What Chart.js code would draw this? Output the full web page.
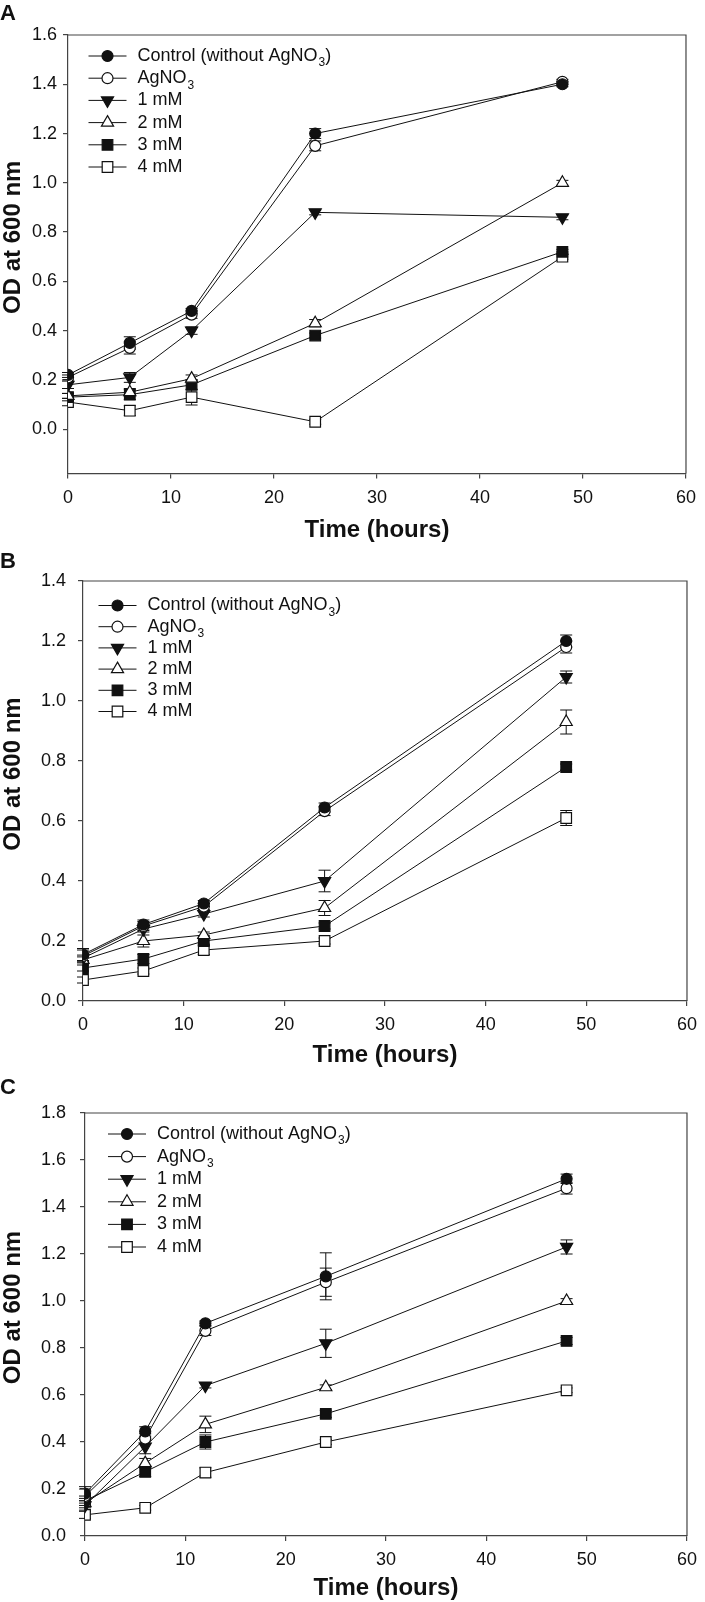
<!DOCTYPE html>
<html>
<head>
<meta charset="utf-8">
<script src="https://cdn.jsdelivr.net/npm/chart.js@4.4.1/dist/chart.umd.min.js"></script>
<style>
body { margin: 0; background: #fff; }
#wrap { position: relative; width: 705px; height: 1602px; overflow: hidden; background: #fff; }
canvas { position: absolute; left: 0; }
.panel { position: absolute; left: 0; font: bold 22px "Liberation Sans", Arial, sans-serif; line-height: 22px; color: #111; }
</style>
</head>
<body>
<div id="wrap">
  <canvas id="chartA" width="705" height="560" style="top:0px"></canvas>
  <canvas id="chartB" width="705" height="535" style="top:540px"></canvas>
  <canvas id="chartC" width="705" height="532" style="top:1070px"></canvas>
  <div class="panel" style="top:2px">A</div>
  <div class="panel" style="top:550px">B</div>
  <div class="panel" style="top:1076px">C</div>
</div>
<script>
const timeHours = [0, 6, 12, 24, 48];
const seriesNames = ['Control (without AgNO3)', 'AgNO3', '1 mM', '2 mM', '3 mM', '4 mM'];
const xTicks = [0, 10, 20, 30, 40, 50, 60];
const yTicksA = [0, 0.2, 0.4, 0.6, 0.8, 1.0, 1.2, 1.4, 1.6];
const yTicksB = [0, 0.2, 0.4, 0.6, 0.8, 1.0, 1.2, 1.4];
const yTicksC = [0, 0.2, 0.4, 0.6, 0.8, 1.0, 1.2, 1.4, 1.6, 1.8];

// OD at 600 nm, one row per series (same order as seriesNames)
const odA = [
    [0.22, 0.35, 0.48, 1.20, 1.40],
    [0.21, 0.33, 0.465, 1.15, 1.41],
    [0.18, 0.21, 0.40, 0.88, 0.86],
    [0.135, 0.15, 0.205, 0.43, 1.00],
    [0.13, 0.14, 0.18, 0.38, 0.72],
    [0.11, 0.075, 0.13, 0.03, 0.70]
];
const errA = [
    [0.01, 0.025, 0.01, 0.02, 0.01],
    [0.01, 0.025, 0.015, 0.02, 0.01],
    [0.015, 0.02, 0.015, 0.01, 0.01],
    [0.01, 0.015, 0.015, 0.015, 0.01],
    [0.015, 0.02, 0.02, 0.01, 0.01],
    [0.015, 0.02, 0.032, 0.01, 0.01]
];
const odB = [
    [0.155, 0.255, 0.325, 0.645, 1.20],
    [0.15, 0.25, 0.315, 0.633, 1.18],
    [0.143, 0.24, 0.29, 0.40, 1.08],
    [0.137, 0.20, 0.22, 0.31, 0.93],
    [0.11, 0.14, 0.20, 0.25, 0.78],
    [0.07, 0.10, 0.17, 0.20, 0.61]
];
const errB = [
    [0.02, 0.015, 0.01, 0.015, 0.02],
    [0.02, 0.015, 0.01, 0.015, 0.02],
    [0.01, 0.01, 0.01, 0.036, 0.02],
    [0.01, 0.02, 0.01, 0.025, 0.04],
    [0.01, 0.015, 0.01, 0.01, 0.01],
    [0.01, 0.01, 0.015, 0.01, 0.025]
];
const odC = [
    [0.18, 0.445, 0.905, 1.105, 1.52],
    [0.17, 0.415, 0.873, 1.08, 1.48],
    [0.13, 0.38, 0.64, 0.82, 1.23],
    [0.14, 0.31, 0.475, 0.633, 1.00],
    [0.15, 0.273, 0.40, 0.52, 0.83],
    [0.09, 0.12, 0.27, 0.40, 0.62]
];
const errC = [
    [0.03, 0.02, 0.01, 0.10, 0.02],
    [0.03, 0.02, 0.02, 0.06, 0.025],
    [0.02, 0.03, 0.01, 0.06, 0.03],
    [0.02, 0.02, 0.035, 0.01, 0.01],
    [0.02, 0.02, 0.03, 0.015, 0.015],
    [0.015, 0.01, 0.02, 0.01, 0.01]
];

const FONT = '"Liberation Sans", Arial, sans-serif';
const INK = '#111';
const AXIS = '#444';

// marker look per series
const markers = [
    { style: 'circle', fill: INK, radius: 5.5, rot: 0 },
    { style: 'circle', fill: '#fff', radius: 5.5, rot: 0 },
    { style: 'triangle', fill: INK, radius: 7, rot: 180 },
    { style: 'triangle', fill: '#fff', radius: 7, rot: 0 },
    { style: 'rect', fill: INK, radius: 7.5, rot: 0 },
    { style: 'rect', fill: '#fff', radius: 7.5, rot: 0 }
];

// vertical error bars with caps, drawn under the lines and markers
const errorBars = {
    id: 'errorBars',
    beforeDatasetsDraw(chart) {
        const { ctx, scales: { x, y } } = chart;
        ctx.save();
        ctx.strokeStyle = INK;
        ctx.lineWidth = 1;
        chart.data.datasets.forEach(ds => {
            ds.data.forEach((p, j) => {
                const e = ds.errors[j];
                if (!e) return;
                const px = x.getPixelForValue(p.x);
                const top = y.getPixelForValue(p.y + e);
                const bot = y.getPixelForValue(p.y - e);
                ctx.beginPath();
                ctx.moveTo(px, top); ctx.lineTo(px, bot);
                ctx.moveTo(px - 6, top); ctx.lineTo(px + 6, top);
                ctx.moveTo(px - 6, bot); ctx.lineTo(px + 6, bot);
                ctx.stroke();
            });
        });
        ctx.restore();
    }
};

// top and right sides of the box, plus the y title (sits a bit above centre)
const frame = {
    id: 'frame',
    afterDraw(chart, args, o) {
        const { ctx, chartArea: a } = chart;
        ctx.save();
        ctx.strokeStyle = AXIS;
        ctx.lineWidth = 1.2;
        ctx.beginPath();
        ctx.moveTo(a.left, a.top); ctx.lineTo(a.right, a.top); ctx.lineTo(a.right, a.bottom);
        ctx.stroke();

        ctx.translate(o.titleX, (a.top + a.bottom) / 2 + o.titleDy);
        ctx.rotate(-Math.PI / 2);
        ctx.fillStyle = INK;
        ctx.font = 'bold 24px ' + FONT;
        ctx.textAlign = 'center';
        ctx.textBaseline = 'middle';
        ctx.fillText('OD at 600 nm', 0, 0);
        ctx.restore();
    }
};

function drawLabel(ctx, text, x, y) {
    // "NO3" gets a subscript 3
    const k = text.indexOf('NO3');
    if (k < 0) { ctx.fillText(text, x, y); return; }
    const head = text.slice(0, k + 2);
    const tail = text.slice(k + 3);
    ctx.font = '18px ' + FONT;
    ctx.fillText(head, x, y);
    let cx = x + ctx.measureText(head).width;
    ctx.font = '12px ' + FONT;
    ctx.fillText('3', cx + 1, y + 7);
    cx += ctx.measureText('3').width + 1;
    ctx.font = '18px ' + FONT;
    ctx.fillText(tail, cx, y);
}

const insideLegend = {
    id: 'insideLegend',
    afterDraw(chart, args, o) {
        const { ctx, chartArea: a } = chart;
        ctx.save();
        chart.data.datasets.forEach((ds, i) => {
            const y = a.top + o.dy + i * o.gap;
            const x0 = a.left + o.dx;
            ctx.strokeStyle = INK;
            ctx.lineWidth = 1;
            ctx.beginPath(); ctx.moveTo(x0, y); ctx.lineTo(x0 + 38, y); ctx.stroke();
            ctx.fillStyle = ds.pointBackgroundColor;
            ctx.lineWidth = 1.2;
            Chart.helpers.drawPoint(ctx, {
                pointStyle: ds.pointStyle, rotation: ds.pointRotation,
                radius: ds.pointRadius, borderWidth: 1.2
            }, x0 + 19, y);
            ctx.fillStyle = INK;
            ctx.font = '18px ' + FONT;
            ctx.textBaseline = 'middle';
            ctx.textAlign = 'left';
            drawLabel(ctx, ds.label, x0 + 49, y);
        });
        ctx.restore();
    }
};

function makePanel(id, values, errors, yTicks, cfg) {
    const datasets = values.map((vals, i) => ({
        label: seriesNames[i],
        data: timeHours.map((t, j) => ({ x: t, y: vals[j] })),
        errors: errors[i],
        borderColor: INK,
        borderWidth: 1,
        pointStyle: markers[i].style,
        pointRotation: markers[i].rot,
        pointRadius: markers[i].radius,
        pointBackgroundColor: markers[i].fill,
        pointBorderColor: INK,
        pointBorderWidth: 1.2,
        tension: 0,
        fill: false
    }));

    return new Chart(document.getElementById(id), {
        type: 'line',
        data: { datasets },
        options: {
            responsive: false,
            animation: false,
            devicePixelRatio: 1,
            layout: { padding: { left: 0, top: cfg.top, right: cfg.right, bottom: 0 } },
            plugins: {
                legend: { display: false },
                tooltip: { enabled: false },
                insideLegend: cfg.legend,
                frame: { titleX: 13, titleDy: -17 }
            },
            scales: {
                x: {
                    type: 'linear',
                    min: 0,
                    max: 60,
                    afterBuildTicks: s => { s.ticks = xTicks.map(v => ({ value: v })); },
                    afterFit: s => { s.height = cfg.xh; },
                    ticks: { font: { size: 18, family: FONT }, color: INK, padding: cfg.xpad, maxRotation: 0, callback: v => String(v) },
                    grid: { drawOnChartArea: false, tickLength: 5, color: AXIS, lineWidth: 1.2 },
                    border: { color: AXIS, width: 1.2 },
                    title: {
                        display: true, text: 'Time (hours)', color: INK,
                        font: { size: 24, weight: 'bold', family: FONT, lineHeight: 1 },
                        padding: { top: 0, bottom: cfg.tpad }
                    }
                },
                y: {
                    min: cfg.ymin,
                    max: yTicks[yTicks.length - 1],
                    afterBuildTicks: s => { s.ticks = yTicks.map(v => ({ value: v })); },
                    afterFit: s => { s.width = cfg.yw; },
                    ticks: { font: { size: 18, family: FONT }, color: INK, padding: cfg.ypad, callback: v => v.toFixed(1) },
                    grid: { drawOnChartArea: false, tickLength: 5, color: AXIS, lineWidth: 1.2 },
                    border: { color: AXIS, width: 1.2 }
                }
            }
        },
        plugins: [errorBars, frame, insideLegend]
    });
}

makePanel('chartA', odA, errA, yTicksA, {
    top: 35, right: 9.5, yw: 68, xh: 86.5, xpad: 9, tpad: 18, ypad: 6, ymin: -0.18,
    legend: { dx: 20.5, dy: 21, gap: 22.2 }
});
makePanel('chartB', odB, errB, yTicksB, {
    top: 41, right: 17, yw: 83, xh: 74, xpad: 8, tpad: 8, ypad: 12, ymin: 0,
    legend: { dx: 15.5, dy: 24.5, gap: 21.2 }
});
makePanel('chartC', odC, errC, yTicksC, {
    top: 43, right: 16, yw: 85, xh: 66, xpad: 8, tpad: 2, ypad: 14, ymin: 0,
    legend: { dx: 23, dy: 21, gap: 22.6 }
});
</script>
</body>
</html>
